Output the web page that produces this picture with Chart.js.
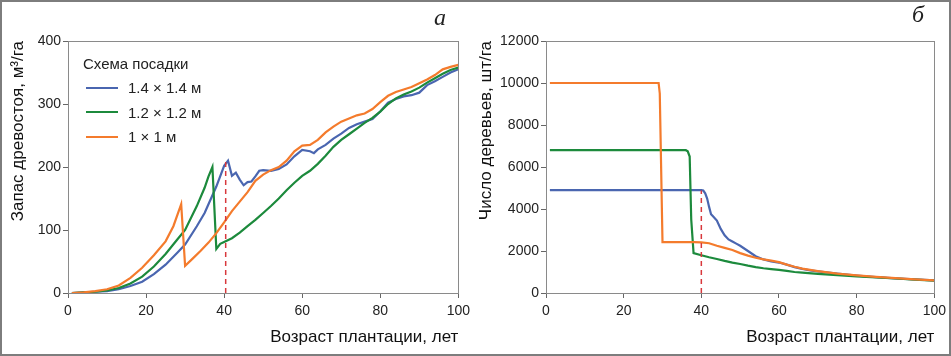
<!DOCTYPE html>
<html>
<head>
<meta charset="utf-8">
<script src="https://cdn.jsdelivr.net/npm/chart.js@4/dist/chart.umd.min.js"></script>
<style>
  body { margin: 0; background: #fff; }
  #wrap { position: relative; width: 951px; height: 356px; overflow: hidden; font-family: "Liberation Sans", Arial, sans-serif; }
  canvas { position: absolute; top: 0; }
  #frame { position: absolute; left: 0; top: 0; width: 951px; height: 356px; box-sizing: border-box; border: 2px solid #7d7d7d; pointer-events: none; }
  .tag { position: absolute; font-family: "Liberation Serif", "DejaVu Serif", serif; font-style: italic; font-size: 24px; color: #222; }
  #legend { position: absolute; left: 83px; top: 51px; font-size: 15px; color: #222; }
  #legend .row { display: flex; align-items: center; height: 24.5px; }
  #legend .ln { width: 32px; height: 0; margin: 0 10px 0 3px; }
</style>
</head>
<body>
<div id="wrap">
  <canvas id="ca" width="475" height="356" style="left:0"></canvas>
  <canvas id="cb" width="475" height="356" style="left:476px"></canvas>
  <span class="tag" style="left:434px;top:4px">а</span>
  <span class="tag" style="left:912px;top:1px">б</span>
  <div id="legend"></div>
  <div id="frame"></div>
</div>
<script>
// series labels
const names = ['1.4 × 1.4 м', '1.2 × 1.2 м', '1 × 1 м'];
const cols = ['#4a66b0', '#1c8a3c', '#f47b2c'];

// a: stand volume, m3/ha
const blueAge = [1,4,7,10,13,16,19,22,25,28,30,33,35,38,40,41,42,43,44,45,46,47,48,49,50,52,54,56,58,60,62,63,64,66,68,70,72,74,76,78,80,82,84,86,88,90,92,94,96,98,100];
const blueVol = [0,1,2,3,6,11,18,30,45,64,77,106,127,169,202,210,186,191,180,171,176,177,185,194,195,194,197,204,217,227,225,222,228,235,245,253,262,268,272,276,288,302,308,312,314,318,330,336,343,350,355];
const greenAge = [1,4,7,10,13,16,19,22,25,28,30,33,35,36,37,38,39,40,42,44,46,48,50,52,54,56,58,60,62,64,66,68,70,72,74,76,78,80,82,84,86,88,90,92,94,96,98,100];
const greenVol = [0,1,2,4,8,15,26,42,62,85,100,138,167,185,200,70,78,81,87,96,106,116,127,138,150,163,175,186,194,205,218,232,243,252,261,270,278,288,300,309,315,320,326,334,341,348,354,358];
const orangeAge = [1,4,7,10,13,16,19,22,25,27,29,30,32,34,36,38,40,42,44,46,48,50,52,54,56,58,60,62,64,66,68,70,72,74,76,78,80,82,84,86,88,90,92,94,96,98,100];
const orangeVol = [0,1,3,6,12,24,40,60,82,106,141,43,55,67,80,95,112,130,145,160,178,188,195,200,210,225,234,235,243,255,264,272,277,282,285,292,303,313,319,323,327,333,339,346,355,359,362];

// б: number of trees per ha
const blueNAge = [1,10,20,30,40,40.5,41,41.5,42,42.5,43,44,45,46,47,48,49,50,52,54,56,58,60,62,64,66,68,70,75,80,85,90,95,100];
const blueN = [4900,4900,4900,4900,4900,4880,4750,4500,4100,3750,3650,3450,3050,2750,2550,2450,2350,2250,2000,1750,1600,1500,1450,1350,1230,1150,1080,1030,920,830,760,700,650,600];
const greenNAge = [1,36,36.5,37,37.4,38,40,42,44,46,48,50,52,54,56,58,60,62,64,66,70,75,80,85,90,95,100];
const greenN = [6800,6800,6750,6500,3500,1900,1800,1700,1620,1530,1450,1380,1300,1230,1180,1140,1100,1050,1000,970,910,850,790,740,690,640,590];
const orangeNAge = [1,29,29.3,30,34,38,40,42,44,46,48,50,52,54,56,58,60,62,64,66,68,70,75,80,85,90,95,100];
const orangeN = [10000,10000,9500,2420,2420,2420,2410,2370,2250,2150,2050,1900,1780,1680,1600,1540,1470,1350,1250,1160,1100,1040,920,840,770,710,650,600];

// dashed marker at age 40
const markA = [[40.4, 0], [40.4, 210]];
const markB = [[40, 0], [40, 4880]];

const xTicks = [0, 20, 40, 60, 80, 100];

const font = 'Liberation Sans, Arial, sans-serif';
const pts = (xs, ys) => xs.map((x, i) => ({ x: x, y: ys[i] }));

const boxPlugin = {
    id: 'box',
    afterDatasetsDraw(ch) {
        const a = ch.chartArea, g = ch.ctx;
        g.save();
        g.strokeStyle = '#8a8a8a';
        g.lineWidth = 1;
        g.strokeRect(Math.round(a.left) + 0.5, Math.round(a.top) + 0.5, Math.round(a.right - a.left), Math.round(a.bottom - a.top));
        g.restore();
    }
};

function makeChart(id, sets, mark, yMax, yStep, yTitle, pad, yW) {
    const ds = [{
        data: mark.map(p => ({ x: p[0], y: p[1] })),
        borderColor: '#d8383c', borderWidth: 1.5, borderDash: [5, 4]
    }];
    [2, 1, 0].forEach(i => ds.push({
        label: names[i],
        data: pts(sets[i][0], sets[i][1]),
        borderColor: cols[i], borderWidth: 2.2
    }));
    return new Chart(document.getElementById(id), {
        type: 'line',
        data: { datasets: ds },
        options: {
            responsive: false,
            animation: false,
            layout: { padding: pad },
            elements: { point: { radius: 0 }, line: { tension: 0 } },
            plugins: { legend: { display: false }, tooltip: { enabled: false } },
            scales: {
                x: {
                    type: 'linear', min: 0, max: 100,
                    afterBuildTicks: s => { s.ticks = xTicks.map(v => ({ value: v })); },
                    afterFit: s => { s.height = 63; },
                    grid: { drawOnChartArea: false, tickLength: 5, color: '#666' },
                    border: { color: '#8a8a8a' },
                    ticks: { padding: 5, color: '#222', font: { family: font, size: 14 }, callback: v => String(v) },
                    title: { display: true, text: 'Возраст плантации, лет', align: 'end', color: '#111',
                             padding: { top: 0, bottom: 8 }, font: { family: font, size: 17 } }
                },
                y: {
                    min: 0, max: yMax,
                    afterFit: s => { s.width = yW; },
                    grid: { drawOnChartArea: false, tickLength: 5, color: '#666' },
                    border: { color: '#8a8a8a' },
                    ticks: { stepSize: yStep, padding: 2, color: '#222', font: { family: font, size: 14 }, callback: v => String(v) },
                    title: { display: true, text: yTitle, align: 'end', color: '#111',
                             padding: 0, font: { family: font, size: 17 } }
                }
            }
        },
        plugins: [boxPlugin]
    });
}

makeChart('ca', [[blueAge, blueVol], [greenAge, greenVol], [orangeAge, orangeVol]],
    markA, 400, 100, 'Запас древостоя, м³/га', { left: 8, right: 14, top: 41, bottom: 0 }, 60);
makeChart('cb', [[blueNAge, blueN], [greenNAge, greenN], [orangeNAge, orangeN]],
    markB, 12000, 2000, 'Число деревьев, шт/га', { left: 0, right: 13, top: 41, bottom: 0 }, 70);

// legend
const lg = document.getElementById('legend');
let h = '<div class="row">Схема посадки</div>';
names.forEach((n, i) => {
    h += '<div class="row"><span class="ln" style="border-top:2px solid ' + cols[i] + '"></span>' + n + '</div>';
});
lg.innerHTML = h;
</script>
</body>
</html>
